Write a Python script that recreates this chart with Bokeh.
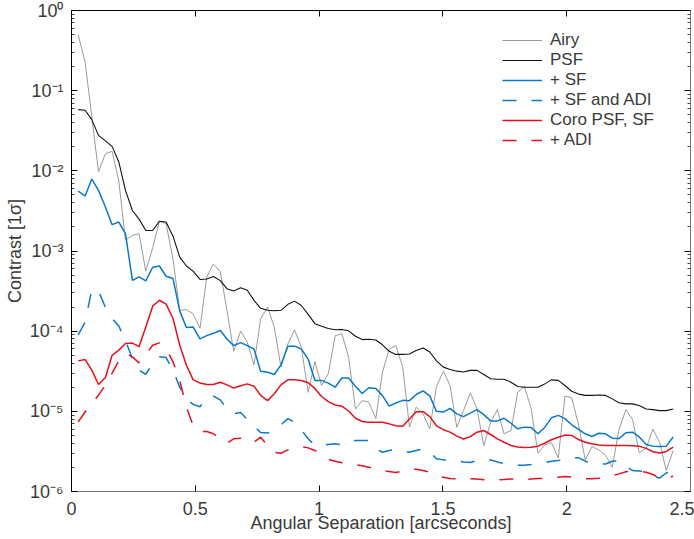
from bokeh.plotting import figure
from bokeh.models import LinearAxis, LogAxis, FixedTicker, CustomJSTickFormatter
from bokeh.embed import file_html
from bokeh.resources import INLINE

# Angular separation [arcsec]
sep = [0.027, 0.055, 0.082, 0.109, 0.137, 0.164, 0.191, 0.218, 0.246, 0.273,
       0.300, 0.328, 0.355, 0.382, 0.410, 0.437, 0.464, 0.491, 0.519, 0.546,
       0.573, 0.601, 0.628, 0.655, 0.683, 0.710, 0.737, 0.764, 0.792, 0.819,
       0.846, 0.874, 0.901, 0.928, 0.956, 0.983, 1.010, 1.037, 1.065, 1.092,
       1.119, 1.147, 1.174, 1.201, 1.229, 1.256, 1.283, 1.310, 1.338, 1.365,
       1.392, 1.420, 1.447, 1.474, 1.502, 1.529, 1.556, 1.583, 1.611, 1.638,
       1.665, 1.693, 1.720, 1.747, 1.775, 1.802, 1.829, 1.856, 1.884, 1.911,
       1.938, 1.966, 1.993, 2.020, 2.048, 2.075, 2.102, 2.129, 2.157, 2.184,
       2.211, 2.239, 2.266, 2.293, 2.321, 2.348, 2.375, 2.402, 2.430]

airy = [0.50, 0.227, 0.047, 9.7e-3, 1.64e-2, 1.75e-2, 7.5e-3, 1.37e-3, 1.57e-3, 1.64e-3,
        5.6e-4, 1.1e-3, 2.34e-3, 2.2e-3, 7.9e-4, 1.82e-4, 1.86e-4, 1.65e-4, 1.09e-4, 4.72e-4,
        6.9e-4, 5.55e-4, 1.81e-4, 5.6e-5, 1.0e-4, 7.3e-5, 3.8e-5, 1.43e-4, 2.0e-4, 1.12e-4,
        3.56e-5, 6.95e-5, 1.04e-4, 6.3e-5, 1.73e-5, 4.17e-5, 2.1e-5, 2.94e-5, 8.8e-5, 9.3e-5,
        4.74e-5, 1.07e-5, 1.36e-5, 1.3e-5, 8.1e-6, 3.08e-5, 6.0e-5, 6.6e-5, 3.56e-5, 6.35e-6,
        1.13e-5, 9.3e-6, 6.05e-6, 2.04e-5, 3.17e-5, 2.1e-5, 6.35e-6, 1.02e-5, 1.7e-5, 1.07e-5,
        3.72e-6, 7.3e-6, 1.05e-5, 5.25e-6, 5.77e-6, 1.73e-5, 2.04e-5, 1.1e-5, 3.0e-6, 3.8e-6,
        4.07e-6, 2.63e-6, 1.55e-5, 1.48e-5, 6.76e-6, 2.48e-6, 3.63e-6, 3.31e-6, 2.82e-6, 2.01e-6,
        5.9e-6, 1.05e-5, 7.9e-6, 3.05e-6, 3.47e-6, 6.0e-6, 4.12e-6, 1.83e-6, 3.25e-6]

psf = [5.8e-2, 5.7e-2, 4.35e-2, 2.77e-2, 2.36e-2, 2.02e-2, 1.29e-2, 5.7e-3, 3.2e-3, 2.5e-3,
       1.8e-3, 1.8e-3, 2.35e-3, 2.3e-3, 1.53e-3, 8.4e-4, 6.5e-4, 5.6e-4, 4.42e-4, 4.47e-4,
       4.8e-4, 4.27e-4, 3.39e-4, 3.16e-4, 3.47e-4, 3.24e-4, 2.42e-4, 1.93e-4, 1.82e-4, 1.8e-4,
       1.82e-4, 2.16e-4, 2.37e-4, 2.09e-4, 1.62e-4, 1.24e-4, 1.15e-4, 1.08e-4, 1.04e-4, 1.05e-4,
       1.01e-4, 8.65e-5, 7.85e-5, 7.94e-5, 7.76e-5, 6.76e-5, 5.62e-5, 5.13e-5, 5.13e-5, 5.19e-5,
       5.75e-5, 6.17e-5, 5.5e-5, 4.27e-5, 3.56e-5, 3.33e-5, 3.17e-5, 3.09e-5, 3.24e-5, 3.24e-5,
       2.88e-5, 2.55e-5, 2.51e-5, 2.51e-5, 2.31e-5, 2.04e-5, 2.0e-5, 2.0e-5, 2.0e-5, 2.2e-5,
       2.47e-5, 2.43e-5, 2.1e-5, 1.78e-5, 1.64e-5, 1.58e-5, 1.58e-5, 1.6e-5, 1.58e-5, 1.43e-5,
       1.28e-5, 1.24e-5, 1.24e-5, 1.18e-5, 1.07e-5, 1.05e-5, 1.02e-5, 1.02e-5, 1.07e-5]

sf = [5.6e-3, 4.86e-3, 7.9e-3, 5.7e-3, 3.54e-3, 2.13e-3, 2.3e-3, 1.65e-3, 4.3e-4, 4.75e-4,
      4.24e-4, 6.27e-4, 6.5e-4, 4.84e-4, 4.53e-4, 1.79e-4, 1.11e-4, 1.13e-4, 8.0e-5, 8.8e-5,
      9.4e-5, 1.02e-4, 8.0e-5, 6.6e-5, 7.2e-5, 6.6e-5, 6.0e-5, 3.17e-5, 3.08e-5, 2.88e-5,
      3.8e-5, 6.5e-5, 6.5e-5, 6.0e-5, 4.47e-5, 2.43e-5, 2.43e-5, 2.25e-5, 2.0e-5, 2.6e-5,
      2.6e-5, 2.05e-5, 1.67e-5, 1.97e-5, 1.93e-5, 1.57e-5, 1.16e-5, 1.27e-5, 1.37e-5, 1.36e-5,
      1.62e-5, 1.8e-5, 1.56e-5, 1.0e-5, 9.8e-6, 1.09e-5, 9.3e-6, 8.6e-6, 9.5e-6, 1.05e-5,
      9.1e-6, 7.6e-6, 7.6e-6, 8.2e-6, 7.1e-6, 6.05e-6, 6.35e-6, 6.3e-6, 5.25e-6, 6.3e-6,
      8.3e-6, 8.9e-6, 8.1e-6, 6.8e-6, 5.95e-6, 5.25e-6, 4.85e-6, 5.33e-6, 5.25e-6, 4.62e-6,
      4.57e-6, 5.4e-6, 5.5e-6, 4.79e-6, 3.85e-6, 3.68e-6, 3.63e-6, 3.68e-6, 4.79e-6]

sf_adi = [9.0e-5, 1.3e-4, 3.3e-4, 3.18e-4, 1.97e-4, 1.44e-4, 1.16e-4, 7.6e-5, 4.55e-5, 3.26e-5,
          2.9e-5, 3.94e-5, 4.78e-5, 4.69e-5, 3.26e-5, 2.0e-5, 1.43e-5, 1.22e-5, 1.14e-5, 1.48e-5,
          1.55e-5, 1.39e-5, 1.06e-5, 9.3e-6, 9.7e-6, 7.9e-6, 6.5e-6, 5.45e-6, 5.35e-6, 5.77e-6,
          6.8e-6, 8.1e-6, 7.3e-6, 5.9e-6, 4.54e-6, 3.75e-6, 3.75e-6, 3.86e-6, 3.94e-6, 3.82e-6,
          4.0e-6, 4.33e-6, 4.33e-6, 4.33e-6, 3.4e-6, 3.09e-6, 3.25e-6, 3.34e-6, 3.19e-6, 3.09e-6,
          3.25e-6, 3.4e-6, 3.09e-6, 2.56e-6, 2.48e-6, 2.45e-6, 2.42e-6, 2.34e-6, 2.3e-6, 2.44e-6,
          2.51e-6, 2.47e-6, 2.34e-6, 2.24e-6, 2.17e-6, 2.13e-6, 2.12e-6, 2.17e-6, 2.24e-6, 2.3e-6,
          2.39e-6, 2.44e-6, 2.56e-6, 2.63e-6, 2.63e-6, 2.39e-6, 2.24e-6, 2.19e-6, 2.2e-6, 2.38e-6,
          2.42e-6, 2.05e-6, 1.83e-6, 1.8e-6, 1.74e-6, 1.58e-6, 1.47e-6, 1.7e-6, 1.8e-6]

coro = [4.26e-5, 4.42e-5, 3.26e-5, 2.16e-5, 2.64e-5, 5.0e-5, 5.8e-5, 7.0e-5, 7.1e-5, 6.4e-5,
        1.13e-4, 2.05e-4, 2.43e-4, 2.17e-4, 1.44e-4, 6.7e-5, 3.76e-5, 2.49e-5, 2.25e-5, 2.16e-5,
        2.16e-5, 2.31e-5, 2.14e-5, 1.95e-5, 2.08e-5, 2.2e-5, 2.06e-5, 1.58e-5, 1.36e-5, 1.66e-5,
        2.14e-5, 2.47e-5, 2.47e-5, 2.43e-5, 2.27e-5, 1.93e-5, 1.53e-5, 1.32e-5, 1.2e-5, 1.16e-5,
        1.01e-5, 8.2e-6, 7.45e-6, 7.3e-6, 7.3e-6, 7.3e-6, 6.98e-6, 6.6e-6, 6.5e-6, 8.0e-6,
        9.9e-6, 9.9e-6, 8.6e-6, 6.6e-6, 5.9e-6, 5.5e-6, 4.9e-6, 4.52e-6, 4.84e-6, 5.5e-6,
        5.77e-6, 5.14e-6, 4.54e-6, 4.12e-6, 3.75e-6, 3.6e-6, 3.54e-6, 3.57e-6, 3.68e-6, 4.0e-6,
        4.42e-6, 4.76e-6, 5.05e-6, 5.0e-6, 4.45e-6, 4.12e-6, 3.95e-6, 3.8e-6, 3.74e-6, 3.76e-6,
        3.75e-6, 3.75e-6, 3.72e-6, 3.68e-6, 3.45e-6, 3.13e-6, 3.02e-6, 3.16e-6, 3.57e-6]

coro_adi = [7.4e-6, 9.8e-6, 1.25e-5, 1.59e-5, 2.12e-5, 3.0e-5, 4.26e-5, 5.26e-5, 4.78e-5, 4.02e-5,
            5.1e-5, 6.68e-5, 7.14e-5, 6.07e-5, 4.14e-5, 2.44e-5, 1.13e-5, 6.7e-6, 5.6e-6, 5.6e-6,
            5.25e-6, 4.54e-6, 4.0e-6, 4.54e-6, 4.62e-6, 4.67e-6, 4.12e-6, 4.76e-6, 3.75e-6, 3.09e-6,
            3.0e-6, 3.31e-6, 3.5e-6, 3.64e-6, 3.5e-6, 3.25e-6, 2.9e-6, 2.51e-6, 2.39e-6, 2.28e-6,
            2.21e-6, 2.15e-6, 2.09e-6, 2.01e-6, 1.9e-6, 1.83e-6, 1.78e-6, 1.73e-6, 1.8e-6, 1.9e-6,
            1.9e-6, 1.83e-6, 1.74e-6, 1.58e-6, 1.51e-6, 1.45e-6, 1.44e-6, 1.48e-6, 1.44e-6, 1.43e-6,
            1.4e-6, 1.37e-6, 1.4e-6, 1.41e-6, 1.43e-6, 1.43e-6, 1.4e-6, 1.43e-6, 1.45e-6, 1.46e-6,
            1.48e-6, 1.51e-6, 1.54e-6, 1.51e-6, 1.46e-6, 1.44e-6, 1.44e-6, 1.46e-6, 1.51e-6, 1.57e-6,
            1.66e-6, 1.76e-6, 1.8e-6, 1.78e-6, 1.74e-6, 1.63e-6, 1.47e-6, 1.48e-6, 1.55e-6]

x_ticks = [0, 0.5, 1, 1.5, 2, 2.5]
x_tick_labels = ["0", "0.5", "1", "1.5", "2", "2.5"]
y_ticks = [1e-6, 1e-5, 1e-4, 1e-3, 1e-2, 1e-1, 1.0]
y_minor = [m * 10.0 ** e for e in range(-6, 0) for m in range(2, 10)]

FONT = "Liberation Sans"
TXT = "#3a3a3a"

p = figure(width=694, height=539, x_range=(0, 2.5), y_range=(1e-6, 1),
           y_axis_type="log", output_backend="svg", toolbar_location=None,
           min_border_left=71, min_border_right=4, min_border_top=10, min_border_bottom=48)
p.grid.visible = False
p.outline_line_color = None
p.background_fill_color = "white"
p.border_fill_color = "white"

sup = CustomJSTickFormatter(code="""
const s = {'-':'\u207b','0':'\u2070','1':'\u00b9','2':'\u00b2','3':'\u00b3','4':'\u2074',
           '5':'\u2075','6':'\u2076','7':'\u2077','8':'\u2078','9':'\u2079'};
const e = Math.round(Math.log10(tick));
return '10' + String(e).split('').map(c => s[c]).join('');
""")
blank = CustomJSTickFormatter(code="return '';")


def style_axis(ax, color="black"):
    ax.major_tick_in = 6
    ax.major_tick_out = 0
    ax.minor_tick_in = 3
    ax.minor_tick_out = 0
    ax.axis_line_color = color
    ax.major_tick_line_color = "black"
    ax.minor_tick_line_color = "#444444"
    ax.major_label_text_font = FONT
    ax.major_label_text_font_size = "18px"
    ax.major_label_text_color = TXT
    ax.axis_label_text_font = FONT
    ax.axis_label_text_font_size = "18px"
    ax.axis_label_text_font_style = "normal"
    ax.axis_label_text_color = TXT


xa = p.xaxis[0]
style_axis(xa, "#777777")
xa.ticker = FixedTicker(ticks=x_ticks)
xa.major_label_overrides = dict(zip(x_ticks, x_tick_labels))
xa.minor_tick_line_color = None
xa.major_label_standoff = 10
xa.axis_label = "Angular Separation [arcseconds]"
xa.axis_label_standoff = -5

ya = p.yaxis[0]
style_axis(ya)
ya.ticker = FixedTicker(ticks=y_ticks, minor_ticks=y_minor)
ya.formatter = sup
ya.major_label_standoff = 8
ya.axis_label = "Contrast [1\u03c3]"
ya.axis_label_standoff = 2

top = LinearAxis(ticker=FixedTicker(ticks=x_ticks), formatter=blank)
style_axis(top)
top.minor_tick_line_color = None
top.major_label_standoff = 0
p.add_layout(top, "above")

right = LogAxis(ticker=FixedTicker(ticks=y_ticks, minor_ticks=y_minor), formatter=blank)
style_axis(right, "#777777")
right.major_label_standoff = 0
p.add_layout(right, "right")

BLUE = "#0a78cc"
RED = "#e8101e"
DASH = "14 15"

p.line(sep, airy, line_color="#9a9a9a", line_width=1, legend_label="Airy")
p.line(sep, psf, line_color="#111111", line_width=1.1, legend_label="PSF")
p.line(sep, sf, line_color=BLUE, line_width=1.5, legend_label="+ SF")
p.line(sep, sf_adi, line_color=BLUE, line_width=1.5, line_dash=DASH, legend_label="+ SF and ADI")
p.line(sep, coro, line_color=RED, line_width=1.5, legend_label="Coro PSF, SF")
p.line(sep, coro_adi, line_color=RED, line_width=1.5, line_dash=DASH, legend_label="+ ADI")

lg = p.legend[0]
lg.location = (431, 341)
lg.border_line_color = None
lg.background_fill_alpha = 0
lg.glyph_width = 40
lg.glyph_height = 20
lg.label_height = 20
lg.label_standoff = 8
lg.spacing = 0
lg.padding = 0
lg.margin = 0
lg.label_text_font = FONT
lg.label_text_font_size = "17px"
lg.label_text_color = TXT

open("out.html", "w").write(file_html(p, INLINE))
